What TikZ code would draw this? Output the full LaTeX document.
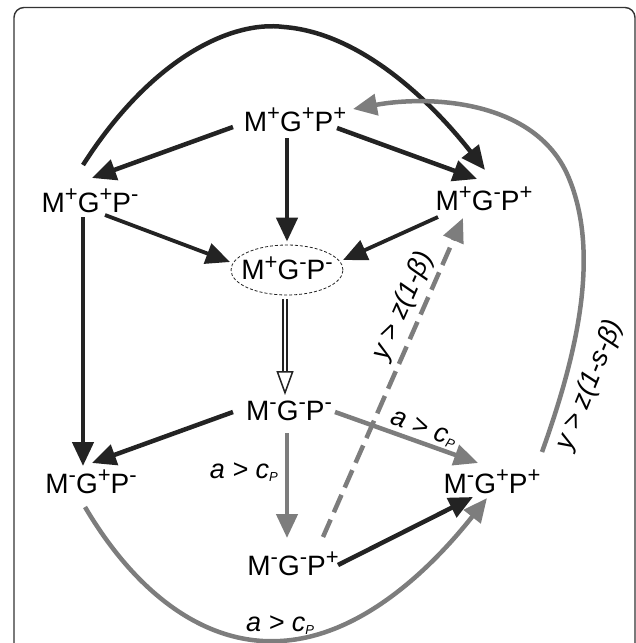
\documentclass[tikz,border=0pt]{standalone}
\usepackage{fontspec}
\setmainfont{Liberation Sans}
\usetikzlibrary{arrows.meta,calc,shapes.geometric}
\definecolor{blk}{RGB}{35,35,35}
\definecolor{gry}{RGB}{125,125,125}
\newcommand\sP{\raisebox{10.5pt}{\fontsize{22}{22}\selectfont +}}
\newcommand\sM{\raisebox{10.5pt}{\fontsize{22}{22}\selectfont -}}
\newcommand\acp{a > c\lower3pt\hbox{\fontsize{13}{13}\selectfont P}}
\begin{document}
\begin{tikzpicture}[x=1pt,y=-1pt,
  >={Triangle[length=24pt,width=21pt]},
  st/.style={font=\fontsize{28}{30}\selectfont, anchor=base, inner sep=0pt},
  ell/.style={ellipse, draw=blk, densely dashed, line width=0.8pt, minimum width=112pt, minimum height=50pt, inner sep=0pt},
  lbl/.style={font=\fontsize{27}{29}\selectfont\itshape, inner sep=0pt},
  ak/.style={draw=blk, line width=4.5pt, ->},
  akt/.style={draw=blk, line width=3.8pt, ->},
  ag/.style={draw=gry, line width=4.5pt, ->},
  dbl/.style={draw=blk, double=white, double distance=2.4pt, line width=1.5pt, -{Triangle[open, fill=white, length=24pt, width=17pt]}},
  frame/.style={draw=black!80, line width=1.4pt, rounded corners=10pt}]
\useasboundingbox (0,0) rectangle (636,643);
\draw[frame] (14,700) -- (14,7.5) -- (635,7.5) -- (635,700);

\node[st] (a) at (295,131) {M\sP G\sP P\sP};
\node[st] (b) at (90,212) {M\sP G\sP P\sM};
\node[st] (c) at (484,210) {M\sP G\sM P\sP};
\node[ell, label={[st, anchor=center, text height=19pt, text depth=0pt]center:{M\sP G\sM P\sM}}] (d) at (287,270) {};
\node[st] (e) at (289,420) {M\sM G\sM P\sM};
\node[st] (f) at (91,493) {M\sM G\sP P\sM};
\node[st] (g) at (492,493) {M\sM G\sP P\sP};
\node[st] (h) at (293,575) {M\sM G\sM P\sP};

% black arrows
\draw[ak] ($(a.base)+(-62,-4)$) -- ($(b.base)+(2,-34)$);
\draw[ak] ($(a.base)+(42,-3)$) -- ($(c.base)+(-7,-31)$);
\draw[ak] ($(a.base)+(-8,7)$) -- ($(d.north)+(0,-3)$);
\draw[akt] ($(b.base)+(15,3)$) -- ($(d.center)+(-57,-8)$);
\draw[akt] ($(c.base)+(-46,7)$) -- ($(d.center)+(56,-10)$);
\draw[ak] ($(b.base)+(-7,-47)$) .. controls (150,60) and (230,20) .. (284,27)
   .. controls (360,33) and (430,100) .. ($(c.base)+(1,-40)$);
\draw[ak] ($(b.base)+(-7,5)$) -- ($(f.base)+(-8,-27)$);
\draw[dbl] ($(d.south)+(-2,4)$) -- ($(e.base)+(-4,-25)$);
\draw[ak] ($(e.base)+(-56,-8)$) -- ($(f.base)+(1,-30)$);
\draw[ak] ($(h.base)+(45,-10)$) -- ($(g.base)+(-19,4)$);

% grey arrows
\draw[ag] ($(e.base)+(-2,13)$) -- node[lbl, left=7pt, pos=0.37] {\acp} ($(h.base)+(-6,-37)$);
\draw[ag] ($(e.base)+(46,-8)$) -- node[lbl, sloped, above=2pt, pos=0.59] {\acp} ($(g.base)+(-14,-30)$);
\draw[ag, dash pattern=on 19pt off 8pt] ($(h.base)+(30,-38)$) -- node[lbl, sloped, above=4.7pt, pos=0.70] {y > z(1-β)} ($(c.base)+(-21,8)$);
\draw[ag] ($(f.base)+(-6,14)$) .. controls (140,600) and (210,645) .. (280,641)
   node[lbl, above=4pt] {\acp}
   .. controls (360,637) and (430,570) .. ($(g.base)+(-5,5)$);
\draw[ag] ($(g.base)+(50,-41)$) .. controls (575,360) and (602,255) .. (568,176)
   .. controls (535,100) and (430,95) .. ($(a.base)+(58,-22)$);
\node[lbl, rotate=68] (lg) at (590,385) {y > z(1-s-β)};
\end{tikzpicture}
\end{document}
